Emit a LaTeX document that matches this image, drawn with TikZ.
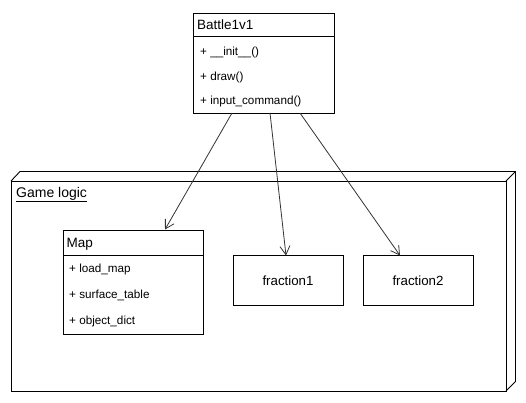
\documentclass[tikz,border=0pt]{standalone}
\usepackage{fontspec}
\setmainfont{Liberation Sans}
\usetikzlibrary{arrows.meta}
\begin{document}
\begin{tikzpicture}[x=1pt,y=-1pt,
  box/.style={draw=black,line width=0.9pt,inner sep=0pt},
  title/.style={anchor=west,font=\fontsize{13.5}{15}\selectfont,inner sep=0pt},
  item/.style={anchor=west,font=\fontsize{11.7}{13}\selectfont,inner sep=0pt},
  link/.style={draw=black!80,line width=0.8pt,-{Straight Barb[angle=60:10pt,line width=0.8pt]}}]
\useasboundingbox (0,0) rectangle (526,402);
% package 3D box
\draw[line width=0.9pt,line join=miter] (11,181) -- (20,171.5) -- (515.5,171.5) -- (515.5,381.5) -- (506,391);
\draw[line width=0.9pt] (506,181) -- (515.5,171.5);
\draw[line width=0.9pt] (11,181) rectangle (506,391);
\node[anchor=west,inner sep=0pt,font=\fontsize{14}{16}\selectfont] (pkg) at (16,194.5) {\underline{Game logic}};
% Battle1v1
\node[box,minimum width=141pt,minimum height=100.5pt,anchor=north west] (battle) at (193,12.5) {};
\draw[line width=0.9pt] (193,36.5) -- (334,36.5);
\node[title] (bt) at (197,25) {Battle1v1};
\node[item] (b1) at (200,52) {+ \_\_init\_\_()};
\node[item] (b2) at (200,77) {+ draw()};
\node[item] (b3) at (200,101) {+ input\_command()};
% Map
\node[box,minimum width=140pt,minimum height=104pt,anchor=north west] (map) at (63,229.5) {};
\draw[line width=0.9pt] (63,255.5) -- (203,255.5);
\node[title] (mt) at (66.5,244) {Map};
\node[item] (m1) at (69,269.5) {+ load\_map};
\node[item] (m2) at (69,295.5) {+ surface\_table};
\node[item] (m3) at (69,321) {+ object\_dict};
% fractions
\node[box,minimum width=110pt,minimum height=50pt,font=\fontsize{13.3}{15}\selectfont] (f1) at (288,280.5) {fraction1};
\node[box,minimum width=110pt,minimum height=50pt,font=\fontsize{13.3}{15}\selectfont] (f2) at (418,280.5) {fraction2};
% links
\coordinate (s1) at (232,113);
\coordinate (s2) at (270,113);
\coordinate (s3) at (300,113);
\coordinate (e1) at (165,229.5);
\coordinate (e2) at (286,255.5);
\coordinate (e3) at (400,255.5);
\draw[link] (s1) -- (e1);
\draw[link] (s2) -- (e2);
\draw[link] (s3) -- (e3);
\end{tikzpicture}
\end{document}
